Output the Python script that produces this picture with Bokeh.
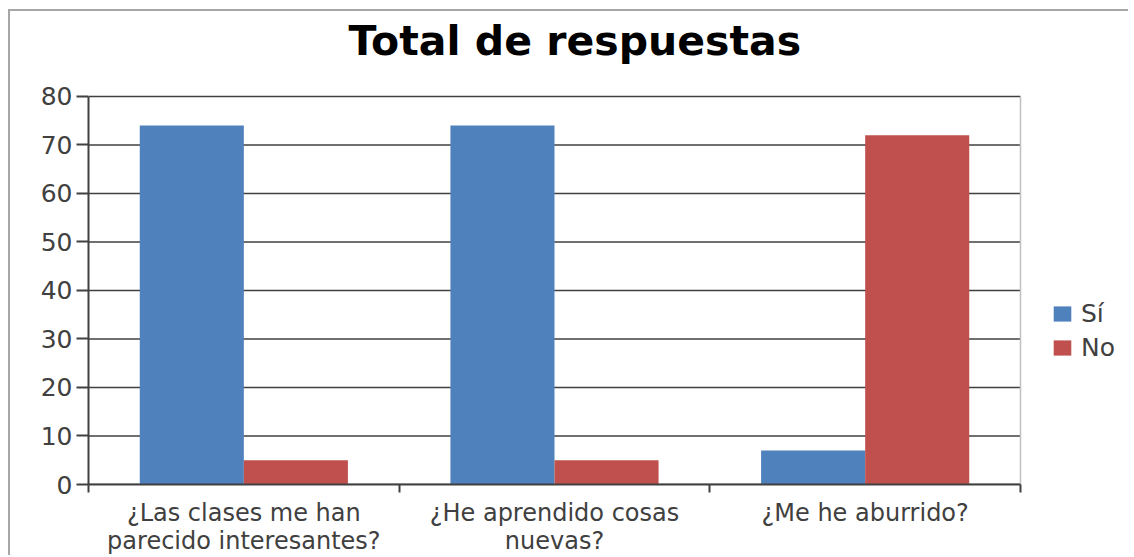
from bokeh.plotting import figure
from bokeh.models import Range1d, FixedTicker, Legend, LegendItem, Title, LinearAxis
from bokeh.embed import file_html
from bokeh.resources import INLINE

# ---- data ----
categories = ["¿Las clases me han\nparecido interesantes?",
              "¿He aprendido cosas\nnuevas?",
              "¿Me he aburrido?"]
series_names = ["Sí", "No"]
si_values = [74, 74, 7]
no_values = [5, 5, 72]
y_ticks = [0, 10, 20, 30, 40, 50, 60, 70, 80]
title_text = "Total de respuestas"

# ---- styles / geometry ----
COLORS = ["#4F81BD", "#C0504D"]
FONT = "DejaVu Sans"
TXT = "#404040"
GAP = 0.165
BW = 0.335
W, H = 1120, 546
LEFT, TOP, BOTTOM = 78, 83, 73
PLOT_W = 932          # width of the bar area in px
N = len(categories)
Y_MAX = y_ticks[-1]
Y_PAD = 0.4           # a little room above the top grid line

frame_w = W - LEFT
p = figure(width=W, height=H,
           x_range=Range1d(0, N * frame_w / PLOT_W),
           y_range=Range1d(0, Y_MAX + Y_PAD),
           output_backend="svg", toolbar_location=None,
           min_border_left=LEFT, min_border_right=0,
           min_border_top=TOP, min_border_bottom=BOTTOM,
           styles={"border-top": "2px solid #a6a6a6",
                   "border-left": "2px solid #a6a6a6",
                   "margin-top": "9px", "margin-left": "8px"})
p.outline_line_color = None
p.xgrid.visible = False
p.ygrid.visible = False

xa = p.below[0]
ya = p.left[0]

# invisible spacer between the frame and the title (one hidden tick)
spacer = LinearAxis(ticker=FixedTicker(ticks=[0]), axis_line_color=None,
                    major_tick_out=30, major_tick_in=0,
                    major_tick_line_color=None,
                    minor_tick_out=0, minor_tick_in=0,
                    major_label_overrides={0: ""},
                    major_label_text_font_size="1px",
                    major_label_standoff=0)
p.add_layout(spacer, "above")
title = Title(text=title_text, align="left", offset=260,
              vertical_align="bottom", standoff=0,
              text_font=FONT, text_font_size="41px", text_font_style="bold",
              text_color="black")
p.add_layout(title, "above")

# horizontal grid lines limited to the bar area
p.segment(x0=[0] * len(y_ticks), x1=[N] * len(y_ticks), y0=y_ticks, y1=y_ticks,
          line_color=TXT, line_width=1.5)
# light right edge of the plot area
p.segment(x0=[N], x1=[N], y0=[0], y1=[Y_MAX], line_color="#c0c0c0", line_width=1.5)

idx = list(range(N))
x_si = [i + GAP + BW / 2 for i in idx]
x_no = [i + GAP + BW + BW / 2 for i in idx]
r_si = p.vbar(x=x_si, top=si_values, width=BW, bottom=0,
              fill_color=COLORS[0], line_color=None)
r_no = p.vbar(x=x_no, top=no_values, width=BW, bottom=0,
              fill_color=COLORS[1], line_color=None)

# x axis: labels at category centres, ticks at category boundaries
centres = [i + 0.5 for i in idx]
bounds = [float(i) for i in range(N + 1)]
xa.bounds = (0, N)
xa.ticker = FixedTicker(ticks=centres, minor_ticks=bounds)
xa.major_label_overrides = {c: cat for c, cat in zip(centres, categories)}
xa.major_label_text_font = FONT
xa.major_label_text_font_size = "24px"
xa.major_label_text_line_height = 1.0
xa.major_label_text_color = TXT
xa.major_label_standoff = 6
xa.major_tick_out = 8
xa.major_tick_in = 0
xa.major_tick_line_color = None
xa.minor_tick_out = 8
xa.minor_tick_in = 0
xa.minor_tick_line_color = TXT
xa.minor_tick_line_width = 2
xa.axis_line_color = TXT
xa.axis_line_width = 2

ya.bounds = (0, Y_MAX)
ya.ticker = FixedTicker(ticks=y_ticks)
ya.major_tick_out = 12
ya.major_tick_in = 0
ya.minor_tick_out = 0
ya.minor_tick_in = 0
ya.axis_line_color = TXT
ya.axis_line_width = 2
ya.major_tick_line_color = TXT
ya.major_tick_line_width = 2
ya.major_label_text_font = FONT
ya.major_label_text_font_size = "25px"
ya.major_label_text_color = TXT
ya.major_label_standoff = 4

legend = Legend(items=[LegendItem(label=series_names[0], renderers=[r_si]),
                       LegendItem(label=series_names[1], renderers=[r_no])],
                location=(963, 122), orientation="vertical",
                glyph_width=22, glyph_height=19, label_height=30,
                label_standoff=8, spacing=4, padding=0, margin=0,
                border_line_color=None, background_fill_alpha=0,
                label_text_font=FONT, label_text_font_size="25px",
                label_text_color=TXT)
p.add_layout(legend, "center")

open("out.html", "w").write(file_html(p, INLINE))
